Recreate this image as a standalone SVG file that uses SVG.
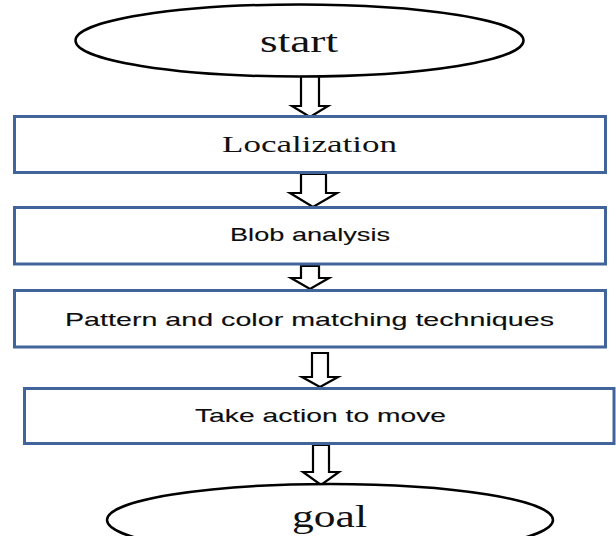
<svg xmlns="http://www.w3.org/2000/svg" width="616" height="536" viewBox="0 0 616 536">
<style>
.term{fill:#fff;stroke:#000;stroke-width:2.5}
.box{fill:#fff;stroke:#41659a;stroke-width:3}
.arr{fill:#fff;stroke:#000;stroke-width:2.2;stroke-linejoin:miter}
.serif{font-family:"Liberation Serif","Times New Roman",serif;fill:#111;text-anchor:middle}
.sans{font-family:"Liberation Sans",Arial,sans-serif;font-size:19px;fill:#0d0d0d;stroke:#0d0d0d;stroke-width:0.12;text-anchor:middle}
</style>
<rect width="616" height="536" fill="#fff"/>
<g id="connectors">
<polygon class="arr" points="301,76 319,76 319,106 328,106 310,117 292,106 301,106"/>
<polygon class="arr" points="301,174 326,174 326,193 337,193 313,207 290,193 301,193"/>
<polygon class="arr" points="301,266 319,266 319,278 329,278 310,289 291,278 301,278"/>
<polygon class="arr" points="312,353 328,353 328,377 338,377 320,387 302,377 312,377"/>
<polygon class="arr" points="313,445 329,445 329,472 339,472 321,485 303,472 313,472"/>
</g>
<g id="start">
<ellipse class="term" cx="299.5" cy="40.5" rx="224" ry="36"/>
<text class="serif" x="299" y="52" font-size="32" textLength="78" lengthAdjust="spacingAndGlyphs">start</text>
</g>
<g id="localization">
<rect class="box" x="14.5" y="116.5" width="591" height="56"/>
<text class="serif" x="309.5" y="152" font-size="23" textLength="175" lengthAdjust="spacingAndGlyphs">Localization</text>
</g>
<g id="blob">
<rect class="box" x="14.5" y="207.5" width="591" height="56.5"/>
<text class="sans" x="310" y="241" textLength="160" lengthAdjust="spacingAndGlyphs">Blob analysis</text>
</g>
<g id="pattern">
<rect class="box" x="14.5" y="290.5" width="591" height="56.5"/>
<text class="sans" x="309.5" y="326" textLength="489" lengthAdjust="spacingAndGlyphs">Pattern and color matching techniques</text>
</g>
<g id="action">
<rect class="box" x="24.5" y="388.5" width="589.5" height="55"/>
<text class="sans" x="320.5" y="422" textLength="251" lengthAdjust="spacingAndGlyphs">Take action to move</text>
</g>
<g id="goal">
<ellipse class="term" cx="330" cy="520" rx="223" ry="36"/>
<text class="serif" x="329.5" y="527" font-size="32" textLength="75" lengthAdjust="spacingAndGlyphs">goal</text>
</g>
</svg>
